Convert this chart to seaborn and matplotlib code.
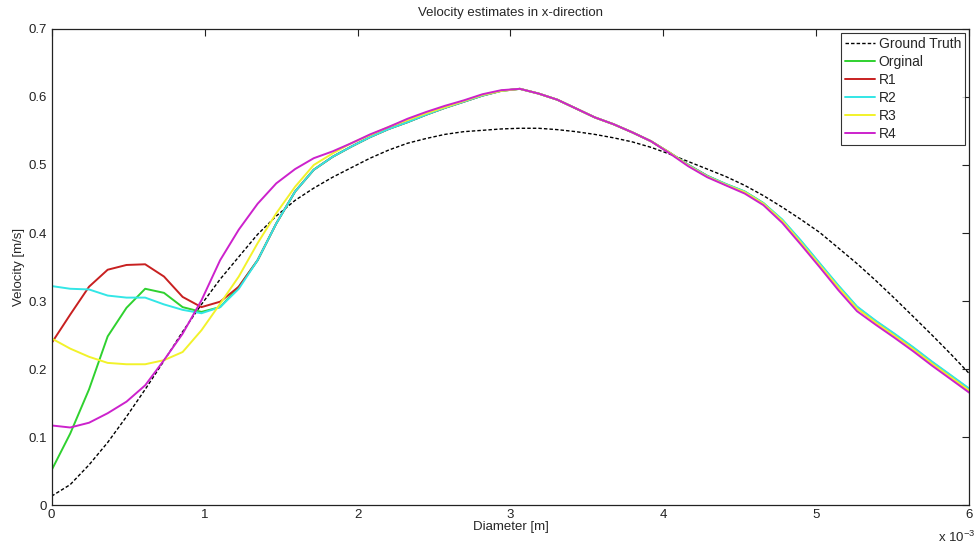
import numpy as np
import pandas as pd
import matplotlib
matplotlib.use('Agg')
import matplotlib.pyplot as plt
from matplotlib.ticker import FuncFormatter, MultipleLocator
import seaborn as sns

# diameter positions in mm (converted to m below)
diameter_mm = [0.000, 0.122, 0.245, 0.367, 0.490, 0.612, 0.735, 0.857, 0.980, 1.102,
               1.224, 1.347, 1.469, 1.592, 1.714, 1.837, 1.959, 2.082, 2.204, 2.327,
               2.449, 2.571, 2.694, 2.816, 2.939, 3.061, 3.184, 3.306, 3.429, 3.551,
               3.673, 3.796, 3.918, 4.041, 4.163, 4.286, 4.408, 4.531, 4.653, 4.776,
               4.898, 5.020, 5.143, 5.265, 5.388, 5.510, 5.633, 5.755, 5.878, 6.000]

ground_truth = [0.013, 0.030, 0.059, 0.092, 0.130, 0.170, 0.212, 0.255, 0.295, 0.332,
                0.365, 0.398, 0.425, 0.448, 0.466, 0.482, 0.496, 0.510, 0.522, 0.532,
                0.539, 0.545, 0.549, 0.551, 0.553, 0.554, 0.554, 0.552, 0.549, 0.545,
                0.540, 0.534, 0.526, 0.516, 0.505, 0.494, 0.483, 0.470, 0.455, 0.438,
                0.420, 0.401, 0.378, 0.355, 0.330, 0.304, 0.277, 0.250, 0.222, 0.193]

orginal = [0.051, 0.105, 0.170, 0.248, 0.290, 0.318, 0.312, 0.291, 0.284, 0.291,
           0.321, 0.360, 0.414, 0.461, 0.493, 0.512, 0.527, 0.541, 0.553, 0.563,
           0.574, 0.584, 0.593, 0.602, 0.609, 0.612, 0.605, 0.596, 0.583, 0.570,
           0.560, 0.548, 0.535, 0.518, 0.500, 0.484, 0.472, 0.461, 0.444, 0.419,
           0.388, 0.355, 0.322, 0.291, 0.270, 0.251, 0.231, 0.210, 0.190, 0.170]

r1 = [0.238, 0.280, 0.321, 0.346, 0.353, 0.354, 0.336, 0.306, 0.291, 0.299,
      0.321, 0.360, 0.414, 0.461, 0.493, 0.512, 0.527, 0.541, 0.553, 0.563,
      0.574, 0.584, 0.593, 0.602, 0.609, 0.612, 0.605, 0.596, 0.583, 0.570,
      0.560, 0.548, 0.535, 0.518, 0.500, 0.484, 0.471, 0.460, 0.443, 0.418,
      0.387, 0.354, 0.321, 0.290, 0.269, 0.250, 0.230, 0.209, 0.189, 0.168]

r2 = [0.322, 0.318, 0.317, 0.308, 0.305, 0.305, 0.295, 0.287, 0.282, 0.291,
      0.318, 0.360, 0.414, 0.461, 0.493, 0.512, 0.527, 0.541, 0.553, 0.563,
      0.574, 0.584, 0.593, 0.602, 0.609, 0.612, 0.605, 0.596, 0.583, 0.570,
      0.560, 0.548, 0.535, 0.518, 0.500, 0.484, 0.472, 0.461, 0.444, 0.420,
      0.389, 0.356, 0.323, 0.292, 0.271, 0.252, 0.232, 0.211, 0.191, 0.171]

r3 = [0.245, 0.230, 0.218, 0.209, 0.207, 0.207, 0.213, 0.225, 0.257, 0.296,
      0.336, 0.385, 0.429, 0.468, 0.500, 0.517, 0.532, 0.544, 0.556, 0.566,
      0.576, 0.585, 0.594, 0.603, 0.609, 0.612, 0.605, 0.596, 0.583, 0.570,
      0.560, 0.548, 0.535, 0.518, 0.499, 0.483, 0.471, 0.460, 0.443, 0.418,
      0.386, 0.353, 0.320, 0.289, 0.268, 0.249, 0.229, 0.208, 0.188, 0.168]

r4 = [0.117, 0.114, 0.121, 0.135, 0.152, 0.176, 0.213, 0.252, 0.301, 0.360,
      0.405, 0.443, 0.473, 0.494, 0.510, 0.520, 0.532, 0.545, 0.556, 0.568,
      0.578, 0.587, 0.595, 0.604, 0.610, 0.612, 0.605, 0.596, 0.583, 0.570,
      0.560, 0.548, 0.535, 0.517, 0.498, 0.482, 0.470, 0.458, 0.441, 0.415,
      0.383, 0.350, 0.316, 0.285, 0.265, 0.246, 0.226, 0.205, 0.185, 0.165]

names = ['Ground Truth', 'Orginal', 'R1', 'R2', 'R3', 'R4']
series = [ground_truth, orginal, r1, r2, r3, r4]
colors = ['black', '#2fd12f', '#c82020', '#33e6e6', '#f2f22a', '#cc22cc']

diameter = np.array(diameter_mm) * 1e-3

sns.set_style('white')
plt.rcParams['font.family'] = ['Liberation Sans', 'DejaVu Sans']

fig = plt.figure(figsize=(9.76, 5.49), dpi=100)
ax = fig.add_axes([0.0528, 0.0801, 0.9405, 0.8671])

for name, vals, col in zip(names, series, colors):
    df = pd.DataFrame({'Diameter': diameter, 'Velocity': vals})
    if name == 'Ground Truth':
        sns.lineplot(data=df, x='Diameter', y='Velocity', ax=ax, color=col,
                     linewidth=1.0, linestyle=(0, (2.5, 1.5)), label=name)
    else:
        sns.lineplot(data=df, x='Diameter', y='Velocity', ax=ax, color=col,
                     linewidth=1.4, label=name)

ax.set_xlim(0, 6e-3)
ax.set_ylim(0, 0.7)
ax.xaxis.set_major_locator(MultipleLocator(1e-3))
ax.yaxis.set_major_locator(MultipleLocator(0.1))
ax.xaxis.set_major_formatter(FuncFormatter(lambda v, p: f'{v * 1e3:g}'))
ax.yaxis.set_major_formatter(FuncFormatter(lambda v, p: f'{v:g}'))
ax.tick_params(direction='in', top=True, right=True, length=5, width=0.8,
               labelsize=9.5, colors='#222222', pad=3)
for sp in ax.spines.values():
    sp.set_color('#222222')
    sp.set_linewidth(0.9)

ax.set_xlabel('Diameter [m]', fontsize=9.5, labelpad=0)
ax.set_ylabel('Velocity [m/s]', fontsize=9.5, labelpad=3)
ax.set_title('Velocity estimates in x-direction', fontsize=9.5, pad=9)
ax.text(1.006, -0.052, 'x 10$^{\\mathregular{-3}}$', transform=ax.transAxes,
        ha='right', va='top', fontsize=9.5)

leg = ax.legend(loc='upper right', fontsize=10, frameon=True, fancybox=False,
                borderaxespad=0.3, handlelength=2.1, handletextpad=0.3,
                labelspacing=0.28, borderpad=0.3)
leg.get_frame().set_edgecolor('black')
leg.get_frame().set_linewidth(0.8)

fig.savefig('out.png', dpi=100)
